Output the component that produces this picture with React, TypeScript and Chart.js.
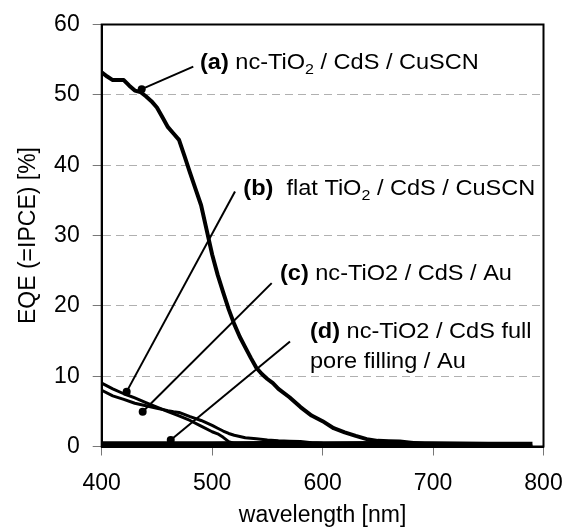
import React, { useEffect, useRef } from "react";
import { Chart, registerables } from "chart.js";

Chart.register(...registerables);

// ---- data ----
const wlA = [400, 405, 410, 415, 420, 425, 430, 435, 440, 445, 450, 455, 460, 465, 470, 475, 480, 485, 490, 495, 500, 505, 510, 515, 520, 525, 530, 535, 540, 545, 550, 555, 560, 570, 580, 590, 600, 610, 620, 630, 640, 650, 660, 670, 680, 690, 700, 710, 720, 740, 760, 790];
const eqeA = [53.2, 52.6, 52.1, 52.1, 52.1, 51.3, 50.6, 50.4, 49.8, 49.1, 48.2, 46.8, 45.4, 44.5, 43.6, 41.3, 38.9, 36.6, 34.3, 30.8, 27.3, 24.4, 21.9, 19.5, 17.4, 15.6, 14.1, 12.6, 11.2, 10.3, 9.6, 9.0, 8.2, 7.0, 5.6, 4.4, 3.6, 2.6, 2.0, 1.5, 1.05, 0.8, 0.75, 0.7, 0.55, 0.4, 0.25, 0.15, 0.1, 0.05, 0.03, 0.0];

const wlB = [400, 410, 420, 430, 440, 450, 460, 470, 480, 490, 500, 505, 510, 515, 520, 530, 540];
const eqeB = [9.0, 8.2, 7.5, 6.9, 6.25, 5.6, 4.95, 4.35, 3.7, 2.9, 2.1, 1.8, 1.3, 0.7, 0.45, 0.35, 0.3];

const wlC = [400, 410, 420, 430, 440, 450, 460, 465, 470, 480, 490, 500, 505, 510, 515, 520, 530, 540, 550, 560, 570, 580, 590, 600];
const eqeC = [8.0, 7.2, 6.7, 6.15, 5.8, 5.45, 5.1, 4.95, 4.85, 4.25, 3.7, 3.0, 2.6, 2.2, 1.85, 1.6, 1.25, 1.1, 0.93, 0.82, 0.75, 0.7, 0.55, 0.45];

const wlD = [400, 450, 500, 550, 600, 650, 700, 750, 790];
const eqeD = [0.35, 0.35, 0.35, 0.4, 0.35, 0.4, 0.35, 0.3, 0.3];

const seriesWidths = [4, 3, 3, 5.5];

const xTicksMin = 400;
const xTicksMax = 800;
const xStep = 100;
const yTicksMin = 0;
const yTicksMax = 60;
const yStep = 10;

const xTitle = "wavelength [nm]";
const yTitle = "EQE (=IPCE) [%]";

// annotations (in data units)
const annotText: [string, string][][] = [
  [["(a)", "b"], [" nc-TiO", ""], ["2", "sub"], [" / CdS / CuSCN", ""]],
  [["(b)", "b"], ["  flat TiO", ""], ["2", "sub"], [" / CdS / CuSCN", ""]],
  [["(c)", "b"], [" nc-TiO2 / CdS / Au", ""]],
  [["(d)", "b"], [" nc-TiO2 / CdS full", ""]],
];
const annotLine2 = ["", "", "", "pore filling / Au"];
const annotTextWl = [489, 528.2, 561.4, 588.6];
const annotTextVal = [53.7, 35.8, 23.7, 15.4];
const annotLeaderWl = [482.9, 520.7, 553.9, 570.5];
const annotLeaderVal = [54.0, 36.27, 23.23, 14.92];
const annotDotWl = [436.2, 422.6, 437.1, 462.5];
const annotDotVal = [50.8, 7.8, 4.95, 0.93];

const FONT = '"Liberation Sans", Arial, Helvetica, sans-serif';

const toPts = (xs: number[], ys: number[]) => xs.map((x, i) => ({ x, y: ys[i] }));

const boxPlugin = {
  id: "boxPlugin",
  afterDatasetsDraw(chart: any) {
    const { ctx, chartArea } = chart;
    ctx.save();
    ctx.strokeStyle = "#000";
    ctx.lineWidth = 2;
    ctx.strokeRect(chartArea.left, chartArea.top, chartArea.right - chartArea.left, chartArea.bottom - chartArea.top);
    ctx.restore();
  },
};

const annotPlugin = {
  id: "annotPlugin",
  afterDatasetsDraw(chart: any) {
    const { ctx } = chart;
    const xs = chart.scales.x;
    const ys = chart.scales.y;
    const size = 22;
    ctx.save();
    ctx.fillStyle = "#000";
    ctx.strokeStyle = "#000";
    for (let i = 0; i < annotText.length; i++) {
      const dx = xs.getPixelForValue(annotDotWl[i]);
      const dy = ys.getPixelForValue(annotDotVal[i]);
      const lx = xs.getPixelForValue(annotLeaderWl[i]);
      const ly = ys.getPixelForValue(annotLeaderVal[i]);
      ctx.lineWidth = 2;
      ctx.beginPath();
      ctx.moveTo(dx, dy);
      ctx.lineTo(lx, ly);
      ctx.stroke();
      ctx.beginPath();
      ctx.arc(dx, dy, 4, 0, Math.PI * 2);
      ctx.fill();

      const tx = xs.getPixelForValue(annotTextWl[i]);
      const ty = ys.getPixelForValue(annotTextVal[i]);
      ctx.save();
      ctx.translate(tx, ty);
      ctx.scale(1.07, 1);
      ctx.textBaseline = "alphabetic";
      ctx.textAlign = "left";
      let cx = 0;
      for (const [t, kind] of annotText[i]) {
        const weight = kind === "b" ? "bold " : "";
        const fs = kind === "sub" ? Math.round(size * 0.68) : size;
        ctx.font = `${weight}${fs}px ${FONT}`;
        const off = kind === "sub" ? size * 0.22 : 0;
        ctx.fillText(t, cx, off);
        cx += ctx.measureText(t).width;
      }
      if (annotLine2[i]) {
        ctx.font = `${size}px ${FONT}`;
        ctx.fillText(annotLine2[i], 0, 30);
      }
      ctx.restore();
    }
    ctx.restore();
  },
};

export default function App() {
  const canvasRef = useRef<HTMLCanvasElement | null>(null);

  useEffect(() => {
    if (!canvasRef.current) return;
    const mk = (xs: number[], ys: number[], w: number) => ({
      data: toPts(xs, ys),
      borderColor: "#000",
      backgroundColor: "#000",
      borderWidth: w,
      pointRadius: 0,
      tension: 0,
      fill: false,
      borderJoinStyle: "round" as const,
    });
    const chart = new Chart(canvasRef.current, {
      type: "line",
      data: {
        datasets: [
          mk(wlD, eqeD, seriesWidths[3]),
          mk(wlC, eqeC, seriesWidths[2]),
          mk(wlB, eqeB, seriesWidths[1]),
          mk(wlA, eqeA, seriesWidths[0]),
        ],
      },
      options: {
        animation: false,
        responsive: true,
        maintainAspectRatio: false,
        layout: { padding: { top: 24.5, right: 22.5, left: 0, bottom: 0 } },
        plugins: { legend: { display: false }, tooltip: { enabled: false } },
        scales: {
          x: {
            type: "linear",
            min: xTicksMin,
            max: xTicksMax,
            ticks: { stepSize: xStep, color: "#000", font: { family: FONT, size: 23 }, padding: 14 },
            grid: { drawOnChartArea: false, drawTicks: true, tickLength: 9, tickColor: "#777", tickWidth: 1, tickBorderDash: [] },
            border: { display: true, color: "#000", width: 2 },
            title: { display: true, text: xTitle, color: "#000", font: { family: FONT, size: 23, lineHeight: 1 }, padding: { top: 0, bottom: 0 } },
            afterFit: (s: any) => {
              s.height = 80.5;
              s.paddingLeft = 0;
              s.paddingRight = 0;
            },
          },
          y: {
            type: "linear",
            min: yTicksMin,
            max: yTicksMax,
            ticks: { stepSize: yStep, color: "#000", font: { family: FONT, size: 23 }, padding: 13 },
            grid: { color: "#b0b0b0", lineWidth: 1, drawTicks: true, tickLength: 9, tickColor: "#777", tickWidth: 1, tickBorderDash: [] },
            border: { display: true, color: "#000", width: 2, dash: [8, 5] },
            title: { display: true, text: yTitle, color: "#000", font: { family: FONT, size: 23, lineHeight: 1 }, padding: { top: 17, bottom: 0 } },
            afterFit: (s: any) => {
              s.width = 101.7;
              s.paddingTop = 0;
              s.paddingBottom = 0;
            },
          },
        },
      } as any,
      plugins: [boxPlugin, annotPlugin],
    });
    return () => chart.destroy();
  }, []);

  return (
    <div style={{ position: "absolute", left: 0, top: 0, width: 566, height: 527, background: "#fff" }}>
      <canvas ref={canvasRef} />
    </div>
  );
}
